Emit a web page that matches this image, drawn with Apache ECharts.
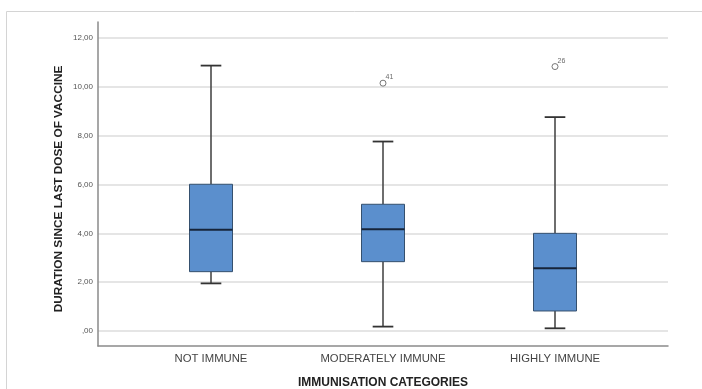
<!DOCTYPE html>
<html>
<head>
<meta charset="utf-8">
<script src="https://cdn.jsdelivr.net/npm/echarts@6/dist/echarts.min.js"></script>
<style>
html,body{margin:0;padding:0;background:#fff;}
#chart{width:702px;height:389px;}
</style>
</head>
<body>
<div id="chart"></div>
<script>
var categories = ['NOT IMMUNE', 'MODERATELY IMMUNE', 'HIGHLY IMMUNE'];
var whiskerLow  = [1.95, 0.18, 0.11];
var q1          = [2.43, 2.84, 0.82];
var medians     = [4.15, 4.17, 2.57];
var q3          = [6.01, 5.19, 4.00];
var whiskerHigh = [10.87, 7.76, 8.76];
var outlierCat   = [1, 2];
var outlierVal   = [10.15, 10.83];
var outlierLabel = ['41', '26'];
var yTicks = [0, 2, 4, 6, 8, 10, 12];
var yAxisTitle = 'DURATION SINCE LAST DOSE OF VACCINE';
var xAxisTitle = 'IMMUNISATION CATEGORIES';

var FONT = '"Liberation Sans", Arial, sans-serif';

var boxData = categories.map(function (c, i) {
  return [i, whiskerLow[i], q1[i], medians[i], q3[i], whiskerHigh[i]];
});
var outData = outlierCat.map(function (c, i) {
  return { value: [c, outlierVal[i]], label: { formatter: outlierLabel[i] } };
});

function fmt(v) {
  if (yTicks.indexOf(v) < 0) return '';
  return v === 0 ? ',00' : v.toFixed(2).replace('.', ',');
}

var chart = echarts.init(document.getElementById('chart'), null, { renderer: 'canvas' });

chart.setOption({
  animation: false,
  backgroundColor: '#ffffff',
  textStyle: { fontFamily: FONT },
  graphic: [
    { type: 'rect', z: -10, silent: true,
      shape: { x: 6.5, y: 11.5, width: 800, height: 500 },
      style: { fill: 'none', stroke: '#d4d4d4', lineWidth: 1 } },
    { type: 'text', x: 59, y: 189, rotation: Math.PI / 2,
      style: { text: yAxisTitle, font: 'bold 11.8px ' + FONT, fill: '#222',
               textAlign: 'center', textVerticalAlign: 'middle' } },
    { type: 'text', x: 383, y: 383,
      style: { text: xAxisTitle, font: 'bold 12px ' + FONT, fill: '#222',
               textAlign: 'center', textVerticalAlign: 'middle' } }
  ],
  grid: [
    { left: 98, right: 34, top: 38, bottom: 58 },
    { left: 125, width: 516, top: 38, bottom: 58 },
    { left: 98, right: 34, top: 22, bottom: 43 }
  ],
  xAxis: [
    { gridIndex: 0, type: 'value', min: 0, max: 1, show: false },
    { gridIndex: 1, type: 'category', data: categories, boundaryGap: true,
      axisLine: { show: false }, axisTick: { show: false }, splitLine: { show: false },
      axisLabel: { margin: 22, fontSize: 11.3, color: '#444', fontFamily: FONT } },
    { gridIndex: 2, type: 'value', min: 0, max: 1,
      axisLine: { show: true, lineStyle: { color: '#8a8a8a', width: 1.5 } },
      axisTick: { show: false }, axisLabel: { show: false }, splitLine: { show: false } }
  ],
  yAxis: [
    { gridIndex: 0, type: 'value', min: 0, max: 12, interval: 2,
      axisLine: { show: false }, axisTick: { show: false },
      axisLabel: { margin: 5, fontSize: 8, color: '#555', fontFamily: FONT, formatter: fmt },
      splitLine: { show: true, lineStyle: { color: '#dcdcdc', width: 1.5 } } },
    { gridIndex: 1, type: 'value', min: 0, max: 12, interval: 2, show: false },
    { gridIndex: 2, type: 'value', min: 0, max: 1,
      axisLine: { show: true, lineStyle: { color: '#8a8a8a', width: 1.5 } },
      axisTick: { show: false }, axisLabel: { show: false }, splitLine: { show: false } }
  ],
  series: [
    {
      type: 'custom',
      xAxisIndex: 1, yAxisIndex: 1,
      data: boxData,
      renderItem: function (params, api) {
        var ci = api.value(0);
        var band = api.size([1, 0])[0];
        var bw = band * 0.25;
        var cw = band * 0.12;
        var pLow = api.coord([ci, api.value(1)]);
        var pQ1 = api.coord([ci, api.value(2)]);
        var pMed = api.coord([ci, api.value(3)]);
        var pQ3 = api.coord([ci, api.value(4)]);
        var pHigh = api.coord([ci, api.value(5)]);
        var x = pMed[0];
        var wStyle = { stroke: '#4a4a4a', lineWidth: 1.6 };
        return {
          type: 'group',
          children: [
            { type: 'line', shape: { x1: x, y1: pHigh[1], x2: x, y2: pQ3[1] }, style: wStyle },
            { type: 'line', shape: { x1: x, y1: pQ1[1], x2: x, y2: pLow[1] }, style: wStyle },
            { type: 'line', shape: { x1: x - cw / 2, y1: pHigh[1], x2: x + cw / 2, y2: pHigh[1] }, style: { stroke: '#333', lineWidth: 1.8 } },
            { type: 'line', shape: { x1: x - cw / 2, y1: pLow[1], x2: x + cw / 2, y2: pLow[1] }, style: { stroke: '#333', lineWidth: 1.8 } },
            { type: 'rect', shape: { x: x - bw / 2, y: pQ3[1], width: bw, height: pQ1[1] - pQ3[1] },
              style: { fill: '#5b8fcd', stroke: '#35506e', lineWidth: 1 } },
            { type: 'line', shape: { x1: x - bw / 2, y1: pMed[1], x2: x + bw / 2, y2: pMed[1] },
              style: { stroke: '#16243a', lineWidth: 2 } }
          ]
        };
      }
    },
    {
      type: 'scatter',
      xAxisIndex: 1, yAxisIndex: 1,
      data: outData,
      symbol: 'circle', symbolSize: 6,
      itemStyle: { color: '#fff', borderColor: '#555', borderWidth: 1 },
      label: { show: true, position: [6, -6], fontSize: 7, color: '#444', fontFamily: FONT }
    }
  ]
});
</script>
</body>
</html>
